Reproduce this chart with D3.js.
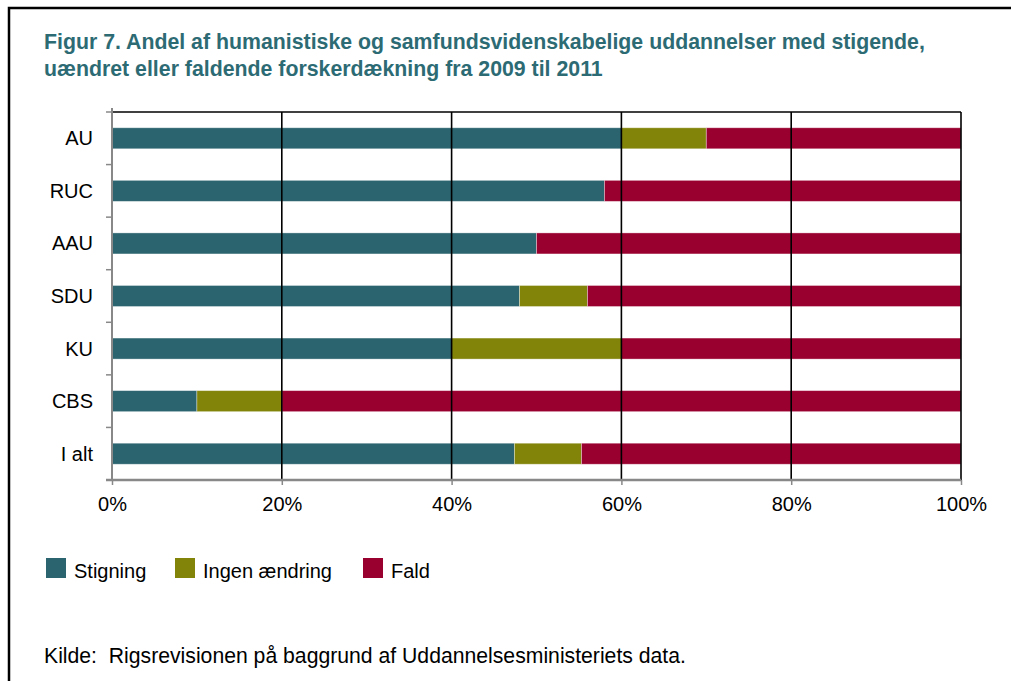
<!DOCTYPE html>
<html><head><meta charset="utf-8">
<script src="https://cdn.jsdelivr.net/npm/d3@7/dist/d3.min.js"></script>
<style>body{margin:0;background:#fff}svg{display:block}text{font-family:"Liberation Sans",Arial,sans-serif}</style>
</head><body><svg id="c" width="1011" height="681"></svg>
<script>
const categories = ["AU","RUC","AAU","SDU","KU","CBS","I alt"];
const seriesNames = ["Stigning","Ingen ændring","Fald"];
const stigning = [60, 58, 50, 48, 40, 10, 47.4];
const ingen    = [10, 0, 0, 8, 20, 10, 7.9];
const fald     = [30, 42, 50, 44, 40, 80, 44.7];
const tickValues = [0, 0.2, 0.4, 0.6, 0.8, 1];
const colors = ["#2b636e", "#82840a", "#990030"];
const titleLines = ["Figur 7. Andel af humanistiske og samfundsvidenskabelige uddannelser med stigende,",
                    "uændret eller faldende forskerdækning fra 2009 til 2011"];
const sourceText = "Kilde:  Rigsrevisionen på baggrund af Uddannelsesministeriets data.";

const svg = d3.select("#c");
// frame
svg.append("path").attr("d","M9,681V8H1011").attr("fill","none").attr("stroke","#000").attr("stroke-width",2.5);

svg.selectAll("text.title").data(titleLines).join("text").attr("class","title")
  .attr("x",44).attr("y",(d,i)=>48.5+i*27).attr("fill","#2d6b74")
  .attr("font-weight","bold").attr("font-size",21.3).text(d=>d);

const L=112, R=961, T=112, B=480;
const x = d3.scaleLinear().domain([0,1]).range([L,R]);
const y = d3.scaleBand().domain(categories).range([T,B]).paddingInner(0.6).paddingOuter(0.3);

const rows = categories.map((c,i)=>({cat:c, vals:[stigning[i],ingen[i],fald[i]]}));
const stackData = rows.map(r=>{const t=d3.sum(r.vals); const o={cat:r.cat}; seriesNames.forEach((s,k)=>o[s]=r.vals[k]/t); return o;});
const stack = d3.stack().keys(seriesNames)(stackData);

// bars
svg.append("g").selectAll("g").data(stack).join("g").attr("fill",(d,i)=>colors[i])
  .selectAll("rect").data(d=>d.filter(p=>p[1]-p[0]>0)).join("rect")
  .attr("x",d=>x(d[0])).attr("width",d=>x(d[1])-x(d[0]))
  .attr("y",d=>y(d.data.cat)).attr("height",y.bandwidth())
  .attr("stroke","rgba(255,255,255,0.45)").attr("stroke-width",0.8);

// gridlines
svg.append("g").selectAll("line").data(tickValues.filter(v=>v>0)).join("line")
  .attr("x1",d=>x(d)).attr("x2",d=>x(d)).attr("y1",T).attr("y2",B)
  .attr("stroke","#000").attr("stroke-width",1.6);
svg.append("line").attr("x1",L).attr("x2",R).attr("y1",T).attr("y2",T).attr("stroke","#000").attr("stroke-width",1.6);

// y axis
const yEdges = d3.range(categories.length+1).map(i=>T+i*(B-T)/categories.length);
const ya = svg.append("g");
ya.append("line").attr("x1",L).attr("x2",L).attr("y1",T-4).attr("y2",B).attr("stroke","#888").attr("stroke-width",2);
ya.selectAll("line.t").data(yEdges).join("line").attr("class","t")
  .attr("x1",L-6).attr("x2",L).attr("y1",d=>d).attr("y2",d=>d).attr("stroke","#888").attr("stroke-width",1.5);
ya.selectAll("text").data(categories).join("text")
  .attr("x",93).attr("y",d=>y(d)+y.bandwidth()/2).attr("dy","0.35em")
  .attr("text-anchor","end").attr("font-size",20).attr("fill","#000").text(d=>d);

// x axis
const xa = svg.append("g").attr("transform",`translate(0,${B})`)
  .call(d3.axisBottom(x).tickValues(tickValues).tickFormat(d3.format(".0%")).tickSize(5).tickSizeOuter(0));
xa.select(".domain").attr("stroke","#888").attr("stroke-width",2.5).attr("d",`M${L-6},0H${R}`);
xa.selectAll(".tick line").attr("stroke","#888").attr("stroke-width",1.5);
xa.selectAll(".tick text").attr("font-size",20).attr("fill","#000").attr("y",17).attr("dy","0.71em")
  .style("font-family","'Liberation Sans',Arial,sans-serif");

// legend
const legX=[46,175,363];
const lg = svg.append("g").selectAll("g").data(seriesNames).join("g")
  .attr("transform",(d,i)=>`translate(${legX[i]},558)`);
lg.append("rect").attr("width",20).attr("height",20).attr("fill",(d,i)=>colors[i]);
lg.append("text").attr("x",28).attr("y",13).attr("dy","0.35em").attr("font-size",20).attr("fill","#000").text(d=>d);

svg.append("text").attr("x",44).attr("y",656).attr("dy","0.35em").attr("font-size",21.2)
  .attr("fill","#000").style("white-space","pre").attr("xml:space","preserve").text(sourceText);
</script></body></html>
